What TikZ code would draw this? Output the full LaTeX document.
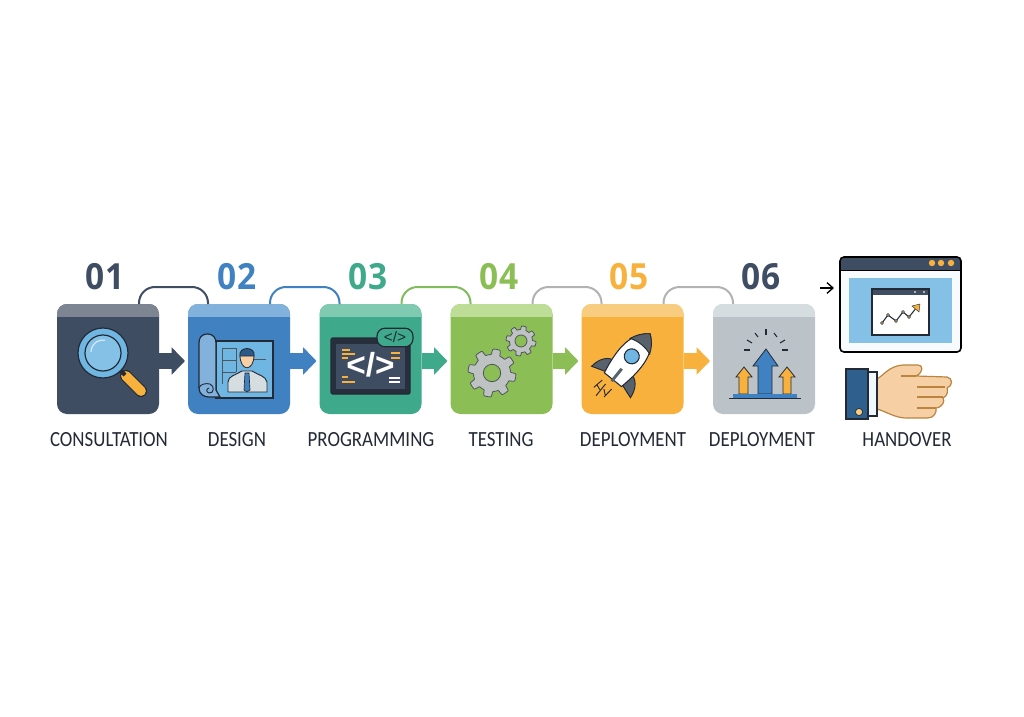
\documentclass[tikz,border=0pt]{standalone}
\usepackage{fontspec}
\setmainfont[FakeStretch=0.875]{Carlito}
\newfontfamily\numfont[FakeStretch=0.93]{Open Sans}
\newfontfamily\codefont{Liberation Sans}
\usetikzlibrary{arrows.meta,calc}
\definecolor{cA}{HTML}{3F4D63}\definecolor{hA}{HTML}{7C8591}
\definecolor{cB}{HTML}{3F81C1}\definecolor{hB}{HTML}{82B2DC}
\definecolor{cC}{HTML}{3FA98C}\definecolor{hC}{HTML}{7FCAB0}
\definecolor{cD}{HTML}{8BBF55}\definecolor{hD}{HTML}{BEDD96}
\definecolor{cE}{HTML}{F7B13C}\definecolor{hE}{HTML}{F9CD7F}
\definecolor{cF}{HTML}{BCC3C8}\definecolor{hF}{HTML}{D6DDE0}
\definecolor{ink}{HTML}{232A35}
\definecolor{sky}{HTML}{6FB6E2}
\definecolor{gearc}{HTML}{BFC2C3}
\definecolor{skin}{HTML}{F6CFA5}
\definecolor{skinl}{HTML}{B9853F}
\definecolor{navy}{HTML}{2F5F8C}
\tikzset{
 x=0.75pt,y=-0.75pt,
 stepbox/.style 2 args={rectangle,rounded corners=7.5pt,fill=#1,minimum width=76.5pt,minimum height=82.5pt,inner sep=0pt,outer sep=0pt,
   path picture={\fill[#2,sharp corners] (path picture bounding box.north west) rectangle ([yshift=-9.75pt]path picture bounding box.north east);}},
 num/.style={font=\numfont\bfseries\fontsize{27}{27}\selectfont,text=#1,inner sep=0pt},
 lab/.style={font=\fontsize{16.2}{18}\selectfont,text=ink,inner sep=0pt},
 blockarrow/.style={color=#1,line width=12pt,-{Triangle[length=10pt,width=20pt]}},
 arch/.style={color=#1,line width=1.5pt,rounded corners=12pt},
}
\newcommand{\gearshape}[6]{% x y rout rin hole teeth
 \begin{scope}[shift={(#1,#2)}]
 \fill[gearc,draw=ink!80,line width=0.6pt,even odd rule]
   plot[samples=193,domain=0:360,variable=\t,smooth] ({\t}:{#4+(#3-#4)*max(0,min(1,0.5+1.6*sin(#6*\t)))}) -- cycle;
 \fill[cD,draw=ink!80,line width=0.6pt] (0,0) circle (#5);
 \end{scope}}
\begin{document}
\begin{tikzpicture}
\useasboundingbox (0,0) rectangle (1024,717);
\fill[white] (0,0) rectangle (1024,717);
% boxes
\node[stepbox={cA}{hA}] (b1) at (108,359) {};
\node[stepbox={cB}{hB}] (b2) at (239,359) {};
\node[stepbox={cC}{hC}] (b3) at (370.5,359) {};
\node[stepbox={cD}{hD}] (b4) at (501.5,359) {};
\node[stepbox={cE}{hE}] (b5) at (632.5,359) {};
\node[stepbox={cF}{hF}] (b6) at (764,359) {};
% numbers
\node[num=cA] (n1) at (105,276.5) {01};
\node[num=cB] (n2) at (237,276.5) {02};
\node[num=cC] (n3) at (368,276.5) {03};
\node[num=cD] (n4) at (499,276.5) {04};
\node[num=cE] (n5) at (629,276.5) {05};
\node[num=cA] (n6) at (761,276.5) {06};
% labels
\node[lab] (l1) at (109,440) {CONSULTATION};
\node[lab] (l2) at (237,440) {DESIGN};
\node[lab] (l3) at (371,440) {PROGRAMMING};
\node[lab] (l4) at (501,440) {TESTING};
\node[lab] (l5) at (633,440) {DEPLOYMENT};
\node[lab] (l6) at (762,440) {DEPLOYMENT};
\node[lab] (l7) at (907,440) {HANDOVER};
% arches
\draw[arch=cA] ([shift={(-20,0)}]b1.north east) -- ++(0,-17) -| ([shift={(20,0)}]b2.north west);
\draw[arch=cB] ([shift={(-20,0)}]b2.north east) -- ++(0,-17) -| ([shift={(20,0)}]b3.north west);
\draw[arch=cD!85!cC] ([shift={(-20,0)}]b3.north east) -- ++(0,-17) -| ([shift={(20,0)}]b4.north west);
\draw[arch=gray!60] ([shift={(-20,0)}]b4.north east) -- ++(0,-17) -| ([shift={(20,0)}]b5.north west);
\draw[arch=gray!60] ([shift={(-20,0)}]b5.north east) -- ++(0,-17) -| ([shift={(20,0)}]b6.north west);
% block arrows
\draw[blockarrow=cA] ([shift={(0,2)}]b1.east) -- ([shift={(-3,2)}]b2.west);
\draw[blockarrow=cB] ([shift={(0,2)}]b2.east) -- ([shift={(-3,2)}]b3.west);
\draw[blockarrow=cC] ([shift={(0,2)}]b3.east) -- ([shift={(-3,2)}]b4.west);
\draw[blockarrow=cD] ([shift={(0,2)}]b4.east) -- ([shift={(-3,2)}]b5.west);
\draw[blockarrow=cE] ([shift={(0,2)}]b5.east) -- ([shift={(-3,2)}]b6.west);
% icon 1 magnifier
\draw[ink,line width=9pt,line cap=round] (126,376) -- (141,391);
\draw[cE,line width=7.4pt,line cap=round] (126,376) -- (141,391);
\draw[ink,line width=3pt] (120,370) -- (125,375);
\fill[sky,draw=ink,line width=0.9pt] (103,353) circle (25);
\fill[sky!85!white,draw=ink,line width=0.9pt] (103,353) circle (18);
\draw[white!70!sky,line width=0.9pt] (91,352) arc[start angle=180,end angle=280,radius=12];
% icon 2 blueprint
\fill[sky,draw=ink,line width=0.9pt] (216,341) rectangle (273,398);
\fill[hB,draw=ink,line width=0.9pt] (208,334) .. controls (201,334) and (199,338) .. (199,343) -- (199,388)
  .. controls (199,394) and (204,397) .. (209,397) -- (220,397) -- (216,390) -- (216,343) .. controls (216,338) and (213,334) .. (208,334) -- cycle;
\draw[ink,line width=0.7pt] (199,388) .. controls (200,384) and (206,383) .. (210,384) .. controls (215,386) and (214,394) .. (209,393) .. controls (206,392) and (206,389) .. (209,388);
\draw[ink!80,line width=0.7pt] (222,384) -- (222,348) -- (236,348) -- (236,372) (222,360) -- (236,360) (222,372) -- (236,372);
\draw[ink!80,line width=0.7pt] (254,359) -- (266,359);
\fill[hF,draw=ink,line width=0.7pt] (228,392) -- (228,382) .. controls (228,376) and (236,375) .. (242,371) -- (252,371) .. controls (258,375) and (266,376) .. (267,382) -- (267,392) -- cycle;
\fill[cB,draw=ink,line width=0.5pt] (245,373) -- (249,373) -- (250,390) -- (247,392) -- (244,390) -- cycle;
\fill[skin,draw=ink,line width=0.6pt] (240,355) .. controls (240,372) and (254,372) .. (254,355) -- cycle;
\fill[cB!70!black,draw=ink,line width=0.6pt] (240,356) .. controls (238,346) and (256,346) .. (254,356) -- cycle;
% icon 3 code
\fill[ink!85!cA,draw=ink,line width=1pt,rounded corners=1.5pt] (331,338) rectangle (410,394);
\fill[cA] (336,344) rectangle (405,389);
\foreach \ya/\xa in {350/350,354/355,358/348,377/348,382/355}{\draw[cE,line width=1pt] (342,\ya) -- (\xa,\ya);}
\foreach \ya in {353,358}{\draw[cE,line width=1pt] (391,\ya) -- (400,\ya);}
\foreach \ya in {378,382}{\draw[white,line width=1pt] (389,\ya) -- (400,\ya);}
\node[font=\codefont\bfseries\fontsize{25}{25}\selectfont,text=white,inner sep=0pt] (code) at (370.5,365) {</>};
\node[fill=cC,draw=ink,line width=0.9pt,rounded corners=6pt,minimum width=27pt,minimum height=14pt,inner sep=0pt,font=\codefont\fontsize{11.5}{12}\selectfont,text=ink] (badge) at (395,337.5) {</>};
% icon 4 gears
\gearshape{492}{373}{24}{18.5}{8.7}{8}
\gearshape{521}{341}{15}{11.5}{6}{8}
% icon 5 rocket
\begin{scope}[shift={(628,361)},rotate=-39]
 \fill[hA!60!ink,draw=ink,line width=0.7pt] (-9,8) .. controls (-18,8) and (-24,16) .. (-25,27) -- (-10,22) -- cycle;
 \fill[hA!60!ink,draw=ink,line width=0.7pt] (9,8) .. controls (18,8) and (24,16) .. (25,27) -- (10,22) -- cycle;
 \fill[white,draw=ink,line width=0.8pt] (0,-35) .. controls (15,-24) and (17,-5) .. (11,24) -- (-11,24) .. controls (-17,-5) and (-15,-24) .. (0,-35) -- cycle;
 \fill[hA!60!ink,draw=ink,line width=0.7pt] (0,-35) .. controls (7,-30) and (10,-25) .. (12.5,-19) .. controls (5,-22) and (-5,-22) .. (-12.5,-19) .. controls (-10,-25) and (-7,-30) .. (0,-35) -- cycle;
 \fill[sky,draw=ink,line width=0.8pt] (0,-6) circle (7.5);
 \draw[hA!60!ink,line width=2.2pt] (0,10) -- (0,26);
 \draw[ink,line width=0.7pt] (-8,31) -- (-10,42) (-3,32) -- (-3,47) (5,32) -- (4,43) (-9,38) -- (-4,40) (-1,37) -- (4,41);
\end{scope}
% icon 6 arrows
\foreach \rx/\ry/\sx/\sy in {766/329/766/335,755/333/758/337,747/340/752/343,744/350/750/350,774/333/777/337,780/343/785/340,782/350/788/350}{
  \draw[ink,line width=0.8pt] (\rx,\ry) -- (\sx,\sy);}
\fill[cB,draw=ink,line width=0.6pt] (758,366) -- (753,366) -- (766,349) -- (778,366) -- (772,366) -- (772,394) -- (758,394) -- cycle;
\fill[cE,draw=ink,line width=0.6pt] (739,377) -- (736,377) -- (744,367) -- (752,377) -- (748,377) -- (748,394) -- (739,394) -- cycle;
\fill[cE,draw=ink,line width=0.6pt] (783,377) -- (779,377) -- (787,367) -- (795,377) -- (791,377) -- (791,394) -- (783,394) -- cycle;
\fill[cB] (733,394) rectangle (797,398);
\draw[ink,line width=0.9pt] (729,398.5) -- (801,398.5);
% window
\node[fill=white!95!sky,rounded corners=3pt,minimum width=90.75pt,minimum height=71.25pt,inner sep=0pt,outer sep=0pt] (win) at (900.5,304.5) {};
\begin{scope}
\clip[rounded corners=3pt] (840,257) rectangle (961,352);
\fill[cA] (840,257) rectangle (961,270);
\end{scope}
\draw[black,line width=1.2pt,rounded corners=3pt] (840,257) rectangle (961,352);
\draw[black,line width=0.6pt] (840,270) -- (961,270);
\foreach \dx in {932,941,951}{\fill[cE] (\dx,263) circle (3.2);}
\fill[sky!85!white] (849,278) rectangle (952,343);
\fill[white] (872,289) rectangle (929,335);
\fill[cA] (872,289) rectangle (929,295);
\draw[ink,line width=0.9pt] (872,289) rectangle (929,335);
\foreach \dx in {915,924}{\fill[hF,draw=ink,line width=0.3pt] (\dx,292) circle (1.6);}
\draw[ink,line width=0.8pt] (882,323) -- (888,315) -- (896,321) -- (903,312) -- (909,317) -- (917,307);
\foreach \px/\py in {882/323,888/315,896/321,903/312,909/317}{\fill[cE!70!white,draw=ink,line width=0.3pt] (\px,\py) circle (1.5);}
\fill[cE,draw=ink,line width=0.3pt] (920,304) -- (919,312) -- (912,306) -- cycle;
\coordinate (arrowstart) at (820,288);
\draw[black,line width=1pt,-{Straight Barb[length=4.5pt,width=8pt]}] (arrowstart) -- ([shift={(-6,-16.5)}]win.west);
% hand
\fill[skin,draw=skinl,line width=0.9pt,line join=round] (877,379) .. controls (884,375) and (889,366) .. (903,365) -- (918,365) .. controls (923,365) and (924,372) .. (916,376)
 -- (947,377) .. controls (953,378) and (953,386) .. (947,388) .. controls (948,390) and (948,396) .. (943,398) .. controls (945,401) and (943,407) .. (936,408)
 .. controls (937,412) and (934,418) .. (928,418) -- (906,418) .. controls (895,418) and (885,411) .. (877,409) -- cycle;
\draw[skinl,line width=0.9pt] (901,376) -- (916,376) (917,387) -- (945,387) (917,397) -- (943,397) (917,408) -- (936,408);
\fill[white!90!sky,draw=ink,line width=1pt] (868,372) rectangle (877,416);
\fill[navy,draw=ink,line width=1pt] (846,369) rectangle (868,419);
\fill[hE,draw=ink,line width=0.5pt] (859,412) circle (3.6);
\end{tikzpicture}
\end{document}
